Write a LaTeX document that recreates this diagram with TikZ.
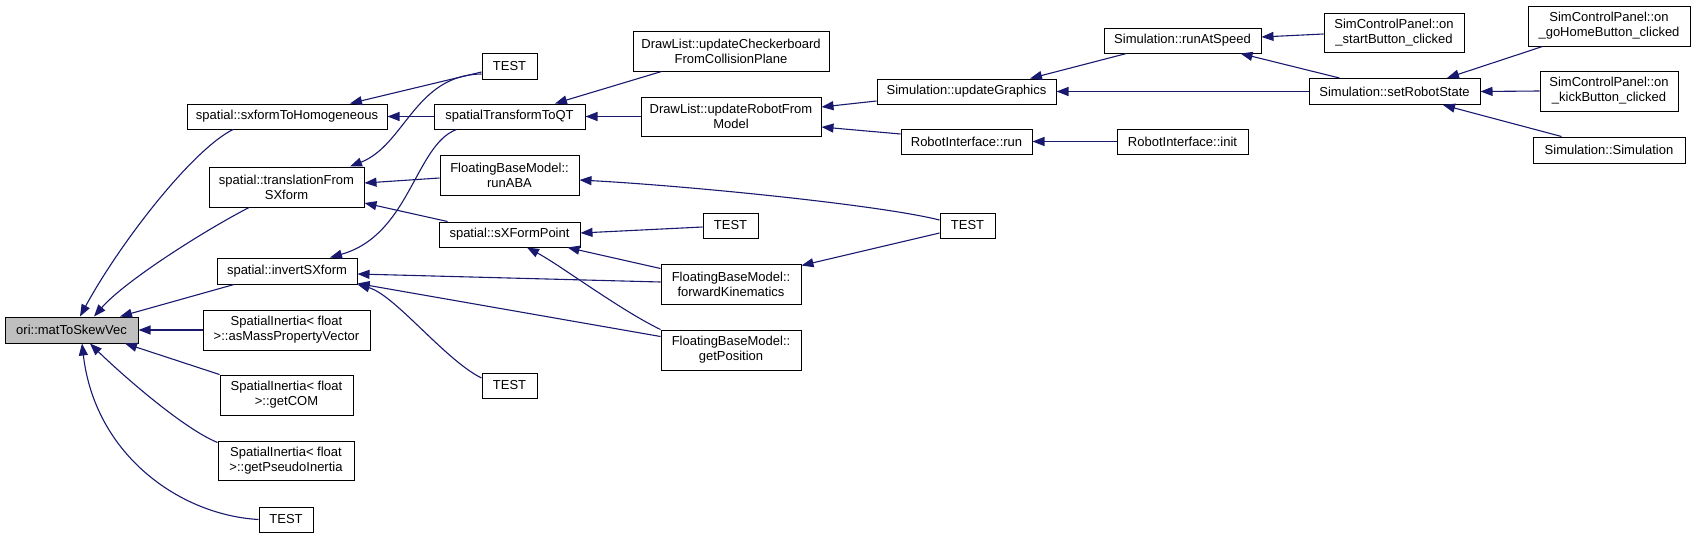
\documentclass[tikz,border=0pt]{standalone}
\usepackage{fontspec}
\setmainfont{Liberation Sans}
\usetikzlibrary{arrows.meta}
\definecolor{edgeblue}{RGB}{25,25,112}
\definecolor{hilite}{RGB}{191,191,191}
\begin{document}
\begin{tikzpicture}[x=1pt,y=-1pt,
  fn/.style={draw=black, line width=1pt, fill=white, inner sep=0pt, align=center,
    font=\fontsize{13}{15}\selectfont, text=black},
  cur/.style={fn, fill=hilite},
  call/.style={draw=edgeblue, line width=1.1pt, -{Triangle[length=12pt,width=9pt]}, edgeblue}]
\useasboundingbox (0,0) rectangle (1696,538);
\fill[white] (0,0) rectangle (1696,538);
% nodes
\node[cur, minimum width=133pt, minimum height=26pt] (m) at (71.5,330) {ori::matToSkewVec};
\node[fn, minimum width=200pt, minimum height=25pt] (sxh) at (287,116.5) {spatial::sxformToHomogeneous};
\node[fn, minimum width=155pt, minimum height=40pt] (tfs) at (286.5,187) {spatial::translationFrom\\SXform};
\node[fn, minimum width=140pt, minimum height=26pt] (inv) at (287,271) {spatial::invertSXform};
\node[fn, minimum width=167pt, minimum height=40pt] (amp) at (286.5,330) {SpatialInertia< float\\>::asMassPropertyVector};
\node[fn, minimum width=133pt, minimum height=40pt] (com) at (286.5,395) {SpatialInertia< float\\>::getCOM};
\node[fn, minimum width=136pt, minimum height=39pt] (psi) at (286,460.5) {SpatialInertia< float\\>::getPseudoInertia};
\node[fn, minimum width=54pt, minimum height=25pt] (t1) at (286,519.5) {TEST};
\node[fn, minimum width=55pt, minimum height=26pt] (t2) at (509.5,66) {TEST};
\node[fn, minimum width=151pt, minimum height=25pt] (qt) at (509.5,116.5) {spatialTransformToQT};
\node[fn, minimum width=139pt, minimum height=40pt] (aba) at (509.5,175) {FloatingBaseModel::\\runABA};
\node[fn, minimum width=141pt, minimum height=25pt] (sxp) at (509.5,234.5) {spatial::sXFormPoint};
\node[fn, minimum width=55pt, minimum height=25pt] (t3) at (509.5,385.5) {TEST};
\node[fn, minimum width=196pt, minimum height=40pt] (chk) at (731,51) {DrawList::updateCheckerboard\\FromCollisionPlane};
\node[fn, minimum width=180pt, minimum height=39pt] (urm) at (731,116.5) {DrawList::updateRobotFrom\\Model};
\node[fn, minimum width=55pt, minimum height=25pt] (t4) at (730.5,225.5) {TEST};
\node[fn, minimum width=140pt, minimum height=40pt] (fk) at (731,284) {FloatingBaseModel::\\forwardKinematics};
\node[fn, minimum width=140pt, minimum height=40pt] (gp) at (731,350) {FloatingBaseModel::\\getPosition};
\node[fn, minimum width=179pt, minimum height=25pt] (ug) at (966.5,91.5) {Simulation::updateGraphics};
\node[fn, minimum width=131pt, minimum height=25pt] (rir) at (966.5,141.5) {RobotInterface::run};
\node[fn, minimum width=55pt, minimum height=25pt] (t5) at (967.5,225.5) {TEST};
\node[fn, minimum width=157pt, minimum height=25pt] (ras) at (1182.5,40.5) {Simulation::runAtSpeed};
\node[fn, minimum width=131pt, minimum height=25pt] (rii) at (1182.5,141.5) {RobotInterface::init};
\node[fn, minimum width=171pt, minimum height=26pt] (srs) at (1394.5,91.5) {Simulation::setRobotState};
\node[fn, minimum width=140pt, minimum height=39pt] (sb) at (1394,32.5) {SimControlPanel::on\\\_startButton\_clicked};
\node[fn, minimum width=162pt, minimum height=40pt] (gh) at (1609,26) {SimControlPanel::on\\\_goHomeButton\_clicked};
\node[fn, minimum width=138pt, minimum height=40pt] (kb) at (1609,91) {SimControlPanel::on\\\_kickButton\_clicked};
\node[fn, minimum width=152pt, minimum height=26pt] (ss) at (1609,150) {Simulation::Simulation};
% edges (caller -> callee)
\draw[call] ([xshift=-54pt]sxh.south) .. controls (192,150) and (120,243) .. ([xshift=8.5pt]m.north);
\draw[call] ([xshift=-37.5pt]tfs.south) .. controls (200,233) and (124,282) .. ([xshift=22.5pt]m.north);
\draw[call] ([xshift=-53pt]inv.south) -- ([xshift=48.5pt]m.north);
\draw[call] (amp.west) -- (m.east);
\draw[call] (com.north west) -- ([xshift=53.5pt]m.south);
\draw[call] ([yshift=-2pt]psi.north west) .. controls (180,427) and (115,368) .. ([xshift=18.5pt]m.south);
\draw[call] (t1.west) .. controls (180,515) and (95,455) .. ([xshift=10.5pt]m.south);
\draw[call] ([yshift=-6pt]t2.west) -- ([xshift=63pt]sxh.north);
\draw[call] (qt.west) -- (sxh.east);
\draw[call] ([yshift=-8pt]t2.west) .. controls (415,75) and (405,145) .. ([xshift=63.5pt]tfs.north);
\draw[call] ([yshift=-3pt]aba.west) -- ([yshift=4pt]tfs.east);
\draw[call] ([xshift=9pt]sxp.north west) -- ([yshift=-16pt]tfs.east);
\draw[call] ([xshift=23pt]qt.south west) .. controls (415,145) and (410,235) .. ([xshift=43pt]inv.north);
\draw[call] ([yshift=-1.5pt]t4.west) -- ([yshift=1.5pt]sxp.east);
\draw[call] ([yshift=-5pt]fk.north west) -- ([xshift=-13pt]sxp.south east);
\draw[call] (gp.north west) .. controls (620,310) and (560,265) .. ([xshift=17.5pt]sxp.south);
\draw[call] ([yshift=2pt]fk.west) -- ([yshift=-3pt]inv.east);
\draw[call] ([yshift=-7pt]gp.north west) -- ([yshift=1pt]inv.south east);
\draw[call] ([yshift=7.5pt]t3.west) .. controls (445,360) and (395,295) .. (inv.south east);
\draw[call] ([xshift=29pt]chk.south west) -- ([xshift=45.5pt]qt.north);
\draw[call] (urm.west) -- (qt.east);
\draw[call] ([yshift=5.5pt]t5.west) .. controls (880,205) and (690,186) .. ([yshift=-5pt]aba.east);
\draw[call] ([yshift=-7.5pt]t5.west) -- ([yshift=-2pt]fk.north east);
\draw[call] ([yshift=-9.5pt]ug.west) -- ([yshift=9.5pt]urm.east);
\draw[call] ([yshift=7.5pt]rir.west) -- ([yshift=-10.5pt]urm.east);
\draw[call] (rii.west) -- (rir.east);
\draw[call] ([xshift=23pt]ras.south west) -- ([xshift=63.5pt]ug.north);
\draw[call] (srs.west) -- (ug.east);
\draw[call] ([yshift=-1.5pt]sb.west) -- ([yshift=3.5pt]ras.east);
\draw[call] ([xshift=31pt]srs.north west) -- ([xshift=-21pt]ras.south east);
\draw[call] ([xshift=15pt]gh.south west) -- ([xshift=52.5pt]srs.north);
\draw[call] (kb.west) -- (srs.east);
\draw[call] ([xshift=29pt]ss.north west) -- ([xshift=48.5pt]srs.south);
\end{tikzpicture}
\end{document}
